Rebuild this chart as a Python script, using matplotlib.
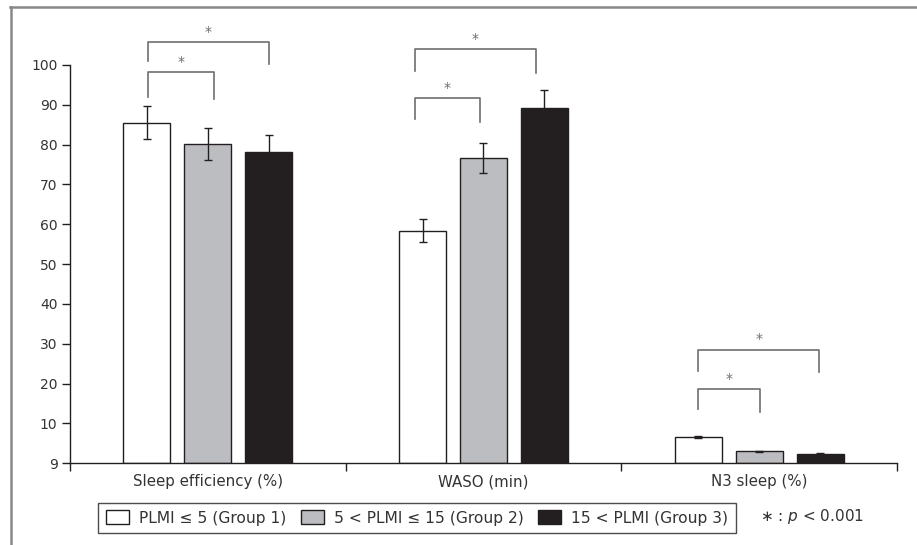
import matplotlib
matplotlib.use('Agg')
import matplotlib.pyplot as plt
from matplotlib.lines import Line2D
from matplotlib.patches import Patch
import numpy as np

plt.rcParams['font.family'] = ['DejaVu Sans']

# data
categories = ["Sleep efficiency (%)", "WASO (min)", "N3 sleep (%)"]
group_labels = ["PLMI \u2264 5 (Group 1)", "5 < PLMI \u2264 15 (Group 2)", "15 < PLMI (Group 3)"]
group1 = [85.5, 58.4, 6.6]
group2 = [80.2, 76.6, 3.0]
group3 = [78.2, 89.2, 2.3]
group1_err = [4.2, 2.9, 0.3]
group2_err = [4.0, 3.7, 0.15]
group3_err = [4.1, 4.4, 0.2]
ytick_vals = [0, 10, 20, 30, 40, 50, 60, 70, 80, 90, 100]
ytick_labels = ["9", "10", "20", "30", "40", "50", "60", "70", "80", "90", "100"]

# significance brackets: (category, left offset, right offset, top, left leg end, right leg end)
brackets = [
    (0, -0.217, 0.022, 98.2, 92.0, 91.5),
    (0, -0.217, 0.222, 105.8, 100.9, 100.3),
    (1, -0.250, -0.012, 91.6, 86.5, 85.8),
    (1, -0.250, 0.189, 103.9, 98.6, 98.1),
    (2, -0.222, 0.003, 18.6, 13.6, 12.9),
    (2, -0.222, 0.218, 28.5, 23.2, 23.0),
]

DARK = '#231f20'
colors = ['#ffffff', '#bcbdc0', DARK]
W, H = 917, 545

fig = plt.figure(figsize=(W / 100, H / 100), dpi=100)
ax = fig.add_axes([70 / W, 81.7 / H, 827 / W, 446.1 / H])

x = np.arange(len(categories))
width = 0.17
offsets = [-0.221, 0.0, 0.221]
series = [group1, group2, group3]
errs = [group1_err, group2_err, group3_err]

for vals, err, off, col in zip(series, errs, offsets, colors):
    ax.bar(x + off, vals, width, color=col, edgecolor=DARK, linewidth=1.0, zorder=2)
    ax.errorbar(x + off, vals, yerr=err, fmt='none', ecolor=DARK,
                elinewidth=1.0, capsize=3.2, capthick=1.0, zorder=3)

# brackets + stars
for cat, lo, ro, top, lb, rb in brackets:
    xl, xr = cat + lo, cat + ro
    ax.plot([xl, xl, xr, xr], [lb, top, top, rb], color='#6d6e71', linewidth=1.2,
            clip_on=False, zorder=3)
    ax.text((xl + xr) / 2, top + 2.6, '*', ha='center', va='center',
            fontsize=10, color='#6d6e71')

ax.set_xlim(-0.5, 2.5)
ax.set_ylim(0, 112)

for s in ['top', 'right']:
    ax.spines[s].set_visible(False)
ax.spines['left'].set_bounds(0, 100)
for s in ['left', 'bottom']:
    ax.spines[s].set_color(DARK)
    ax.spines[s].set_linewidth(1.0)

ax.set_yticks(ytick_vals)
ax.set_yticklabels(ytick_labels)
ax.tick_params(axis='y', direction='out', length=6, width=1.0, color=DARK,
               labelsize=10, labelcolor='#333333', pad=3)

ax.set_xticks([-0.5, 0.5, 1.5, 2.5])
ax.set_xticklabels([])
ax.tick_params(axis='x', which='major', direction='out', length=6, width=1.0, color=DARK)
ax.set_xticks(x, minor=True)
ax.set_xticklabels(categories, minor=True)
ax.tick_params(axis='x', which='minor', length=0, pad=8, labelsize=10.8, labelcolor='#333333')

# legend
handles = [Patch(facecolor=c, edgecolor=DARK, linewidth=1.0) for c in colors]
leg = fig.legend(handles, group_labels, ncol=3, loc='center',
                 bbox_to_anchor=(417 / W, 1 - 518 / H), frameon=True, fancybox=False,
                 fontsize=11.2, handlelength=1.5, handleheight=0.95, handletextpad=0.65,
                 columnspacing=0.9, borderpad=0.5, borderaxespad=0)
leg.get_frame().set_edgecolor(DARK)
leg.get_frame().set_linewidth(1.0)
for t in leg.get_texts():
    t.set_color('#333333')

fig.text(760 / W, 1 - 517 / H, r"$\ast$ : $p$ < 0.001", ha='left', va='center',
         fontsize=11, color='#333333')

# outer frame lines (top and left)
fig.add_artist(Line2D([10 / W, 1], [1 - 7 / H, 1 - 7 / H], color='#888888', linewidth=1.8,
                      transform=fig.transFigure))
fig.add_artist(Line2D([10.5 / W, 10.5 / W], [0, 1 - 7 / H], color='#888888', linewidth=1.8,
                      transform=fig.transFigure))

fig.savefig('out.png', dpi=100)
